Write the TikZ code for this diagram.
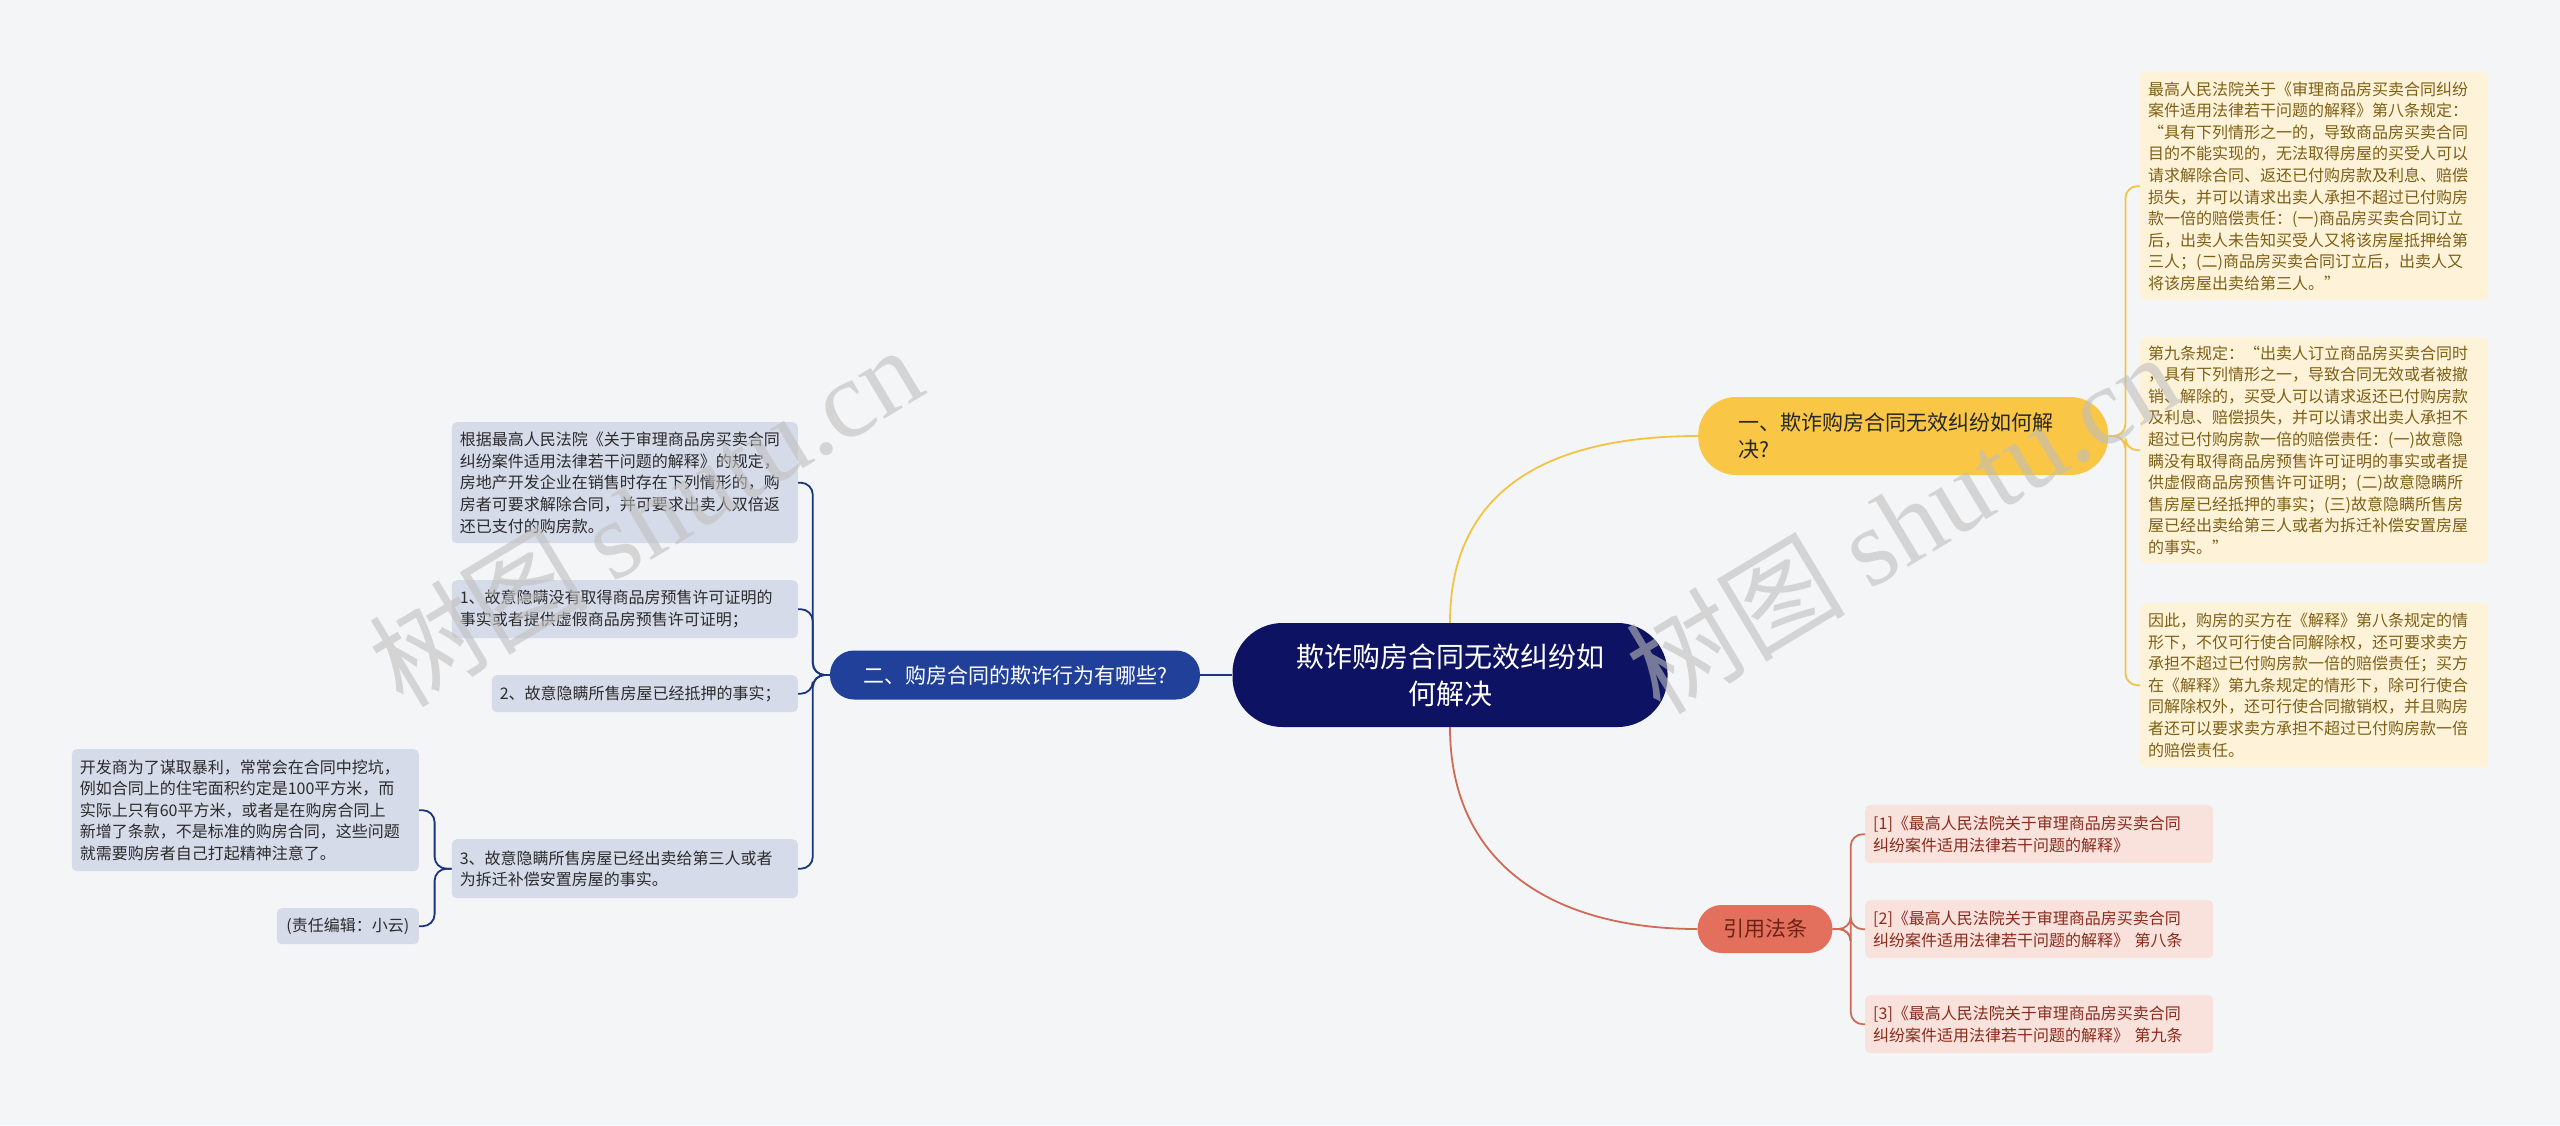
\documentclass[tikz,border=0pt]{standalone}
\usepackage{fontspec}
\setmainfont{Noto Sans CJK SC}
\newfontfamily\wmlatin{Liberation Serif}
\usetikzlibrary{calc}
\usetikzlibrary{positioning}

\definecolor{bgcol}{HTML}{F4F5F7}
\definecolor{rootcol}{HTML}{0D1262}
\definecolor{ybranch}{HTML}{F9C646}
\definecolor{yline}{HTML}{F2C443}
\definecolor{ybox}{HTML}{FEF3D8}
\definecolor{ytext}{HTML}{7D5F16}
\definecolor{bbranch}{HTML}{21409A}
\definecolor{bline}{HTML}{1B3480}
\definecolor{bbox}{HTML}{D6DBEA}
\definecolor{btext}{HTML}{2B2B2B}
\definecolor{rbranch}{HTML}{E2705C}
\definecolor{rline}{HTML}{CF6A55}
\definecolor{rbox}{HTML}{F9E1DC}
\definecolor{rtext}{HTML}{8A2B1C}

\tikzset{
    leaf/.style={rounded corners=5pt, inner xsep=8pt, inner ysep=4pt, align=left,
        font=\fontsize{16}{21.6}\selectfont},
    yleaf/.style={leaf, fill=ybox, text=ytext},
    bleaf/.style={leaf, fill=bbox, text=btext},
    rleaf/.style={leaf, fill=rbox, text=rtext},
    topic/.style={inner xsep=10pt, inner ysep=0pt, font=\fontsize{21}{27}\selectfont},
    ylink/.style={draw=yline, line width=1.8pt},
    blink/.style={draw=bline, line width=1.8pt},
    rlink/.style={draw=rline, line width=1.8pt},
    wmark/.style={rotate=31, text=black!25, opacity=0.6, font=\fontsize{110}{120}\selectfont}
}

\begin{document}
\begin{tikzpicture}[x=1pt, y=-1pt]
        \fill[bgcol] (0,0) rectangle (2560,1125);
        \useasboundingbox (0,0) rectangle (2560,1125);

        \node[fill=rootcol, text=white, rounded corners=50pt, align=center, minimum width=435pt, minimum height=104pt, font=\fontsize{28}{37}\selectfont] (root) at (1450,675) {欺诈购房合同无效纠纷如\\何解决};

        \node[topic, fill=ybranch, text=black!85, rounded corners=38pt, anchor=west, align=left, text width=330pt, inner xsep=40pt, minimum height=78pt] (invalid) at (1698,436) {一、欺诈购房合同无效纠纷如何解\\决?};
        \node[topic, fill=bbranch, text=white, rounded corners=24pt, minimum width=370pt, minimum height=49pt] (fraud) at (1015,675) {二、购房合同的欺诈行为有哪些?};
        \node[topic, fill=rbranch, text=rtext!80!black, rounded corners=24pt, minimum width=135pt, minimum height=48pt] (cite) at (1765,929) {引用法条};

        \node[yleaf, anchor=north west, text width=332pt, minimum height=228pt] (art8) at (2140,72) {最高人民法院关于《审理商品房买卖合同纠纷\\案件适用法律若干问题的解释》第八条规定：\\“具有下列情形之一的，导致商品房买卖合同\\目的不能实现的，无法取得房屋的买受人可以\\请求解除合同、返还已付购房款及利息、赔偿\\损失，并可以请求出卖人承担不超过已付购房\\款一倍的赔偿责任：(一)商品房买卖合同订立\\后，出卖人未告知买受人又将该房屋抵押给第\\三人；(二)商品房买卖合同订立后，出卖人又\\将该房屋出卖给第三人。”};
        \node[yleaf, anchor=north west, text width=332pt, minimum height=226pt] (art9) at (2140,337) {第九条规定：“出卖人订立商品房买卖合同时\\，具有下列情形之一，导致合同无效或者被撤\\销、解除的，买受人可以请求返还已付购房款\\及利息、赔偿损失，并可以请求出卖人承担不\\超过已付购房款一倍的赔偿责任：(一)故意隐\\瞒没有取得商品房预售许可证明的事实或者提\\供虚假商品房预售许可证明；(二)故意隐瞒所\\售房屋已经抵押的事实；(三)故意隐瞒所售房\\屋已经出卖给第三人或者为拆迁补偿安置房屋\\的事实。”};
        \node[yleaf, anchor=north west, text width=332pt, minimum height=164pt] (hence) at (2140,603) {因此，购房的买方在《解释》第八条规定的情\\形下，不仅可行使合同解除权，还可要求卖方\\承担不超过已付购房款一倍的赔偿责任；买方\\在《解释》第九条规定的情形下，除可行使合\\同解除权外，还可行使合同撤销权，并且购房\\者还可以要求卖方承担不超过已付购房款一倍\\的赔偿责任。};

        \node[rleaf, anchor=north west, text width=332pt, minimum height=58pt] (ref1) at (1865,805) {[1]《最高人民法院关于审理商品房买卖合同\\纠纷案件适用法律若干问题的解释》};
        \node[rleaf, anchor=north west, text width=332pt, minimum height=58pt] (ref2) at (1865,900) {[2]《最高人民法院关于审理商品房买卖合同\\纠纷案件适用法律若干问题的解释》 第八条};
        \node[rleaf, anchor=north west, text width=332pt, minimum height=58pt] (ref3) at (1865,995) {[3]《最高人民法院关于审理商品房买卖合同\\纠纷案件适用法律若干问题的解释》 第九条};

        \node[bleaf, anchor=north east, text width=330pt, minimum height=121pt] (basis) at (798,422) {根据最高人民法院《关于审理商品房买卖合同\\纠纷案件适用法律若干问题的解释》的规定，\\房地产开发企业在销售时存在下列情形的，购\\房者可要求解除合同，并可要求出卖人双倍返\\还已支付的购房款。};
        \node[bleaf, anchor=north east, text width=330pt, minimum height=58pt] (permit) at (798,580) {1、故意隐瞒没有取得商品房预售许可证明的\\事实或者提供虚假商品房预售许可证明；};
        \node[bleaf, anchor=north east, text width=290pt, minimum height=37pt] (mortgage) at (798,675) {2、故意隐瞒所售房屋已经抵押的事实；};
        \node[bleaf, anchor=north east, text width=330pt, minimum height=59pt] (resold) at (798,839) {3、故意隐瞒所售房屋已经出卖给第三人或者\\为拆迁补偿安置房屋的事实。};

        \node[bleaf, anchor=north east, text width=331pt, minimum height=122pt] (trap) at (419,749) {开发商为了谋取暴利，常常会在合同中挖坑，\\例如合同上的住宅面积约定是100平方米，而\\实际上只有60平方米，或者是在购房合同上\\新增了条款，不是标准的购房合同，这些问题\\就需要购房者自己打起精神注意了。};
        \node[bleaf, anchor=north east, align=center, minimum width=142pt, minimum height=36pt] (editor) at (419,908) {(责任编辑：小云)};

        \draw[ylink] (root.north) .. controls +(0,-140) and +(-140,0) .. (invalid.west);
        \draw[rlink] (root.south) .. controls +(0,140) and +(-140,0) .. (cite.west);
        \draw[blink] (root.west) -- (fraud.east);

        \foreach \n in {art8, art9, hence}
            \draw[ylink, rounded corners=12pt] (invalid.east) -- ++(17,0) |- (\n.west);
        \foreach \n in {ref1, ref2, ref3}
            \draw[rlink, rounded corners=12pt] (cite.east) -- ++(18,0) |- (\n.west);
        \foreach \n in {basis, permit, mortgage, resold}
            \draw[blink, rounded corners=12pt] (fraud.west) -- ++(-17,0) |- (\n.east);
        \foreach \n in {trap, editor}
            \draw[blink, rounded corners=12pt] (resold.west) -- ++(-17,0) |- (\n.east);

        \node[wmark] (wm left) at (645,515) {树图 {\wmlatin shutu.cn}};
        \node[wmark] (wm right) at (1902,522) {树图 {\wmlatin shutu.cn}};
    \end{tikzpicture}
\end{document}
